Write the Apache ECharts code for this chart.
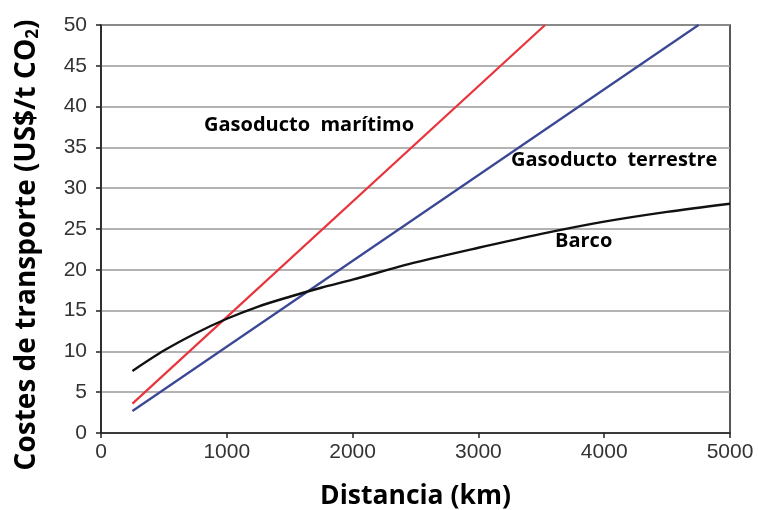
<!DOCTYPE html>
<html>
<head>
<meta charset="utf-8">
<script src="https://cdn.jsdelivr.net/npm/echarts@6/dist/echarts.min.js"></script>
<style>html,body{margin:0;padding:0;background:#fff}#c{width:758px;height:510px}</style>
</head>
<body>
<div id="c"></div>
<script>
// Distance (km) and cost (US$/t CO2)
const xTicks = [0, 1000, 2000, 3000, 4000, 5000];
const yTicks = [0, 5, 10, 15, 20, 25, 30, 35, 40, 45, 50];

const maritimoX = [250, 3530];
const maritimoY = [3.6, 50];

const terrestreX = [250, 4750];
const terrestreY = [2.7, 50];

const barcoX = [250, 500, 750, 1000, 1250, 1500, 1750, 2000, 2500, 3000, 3500, 4000, 4500, 5000];
const barcoY = [7.6, 10.1, 12.2, 14.0, 15.5, 16.7, 17.8, 18.8, 20.9, 22.7, 24.4, 25.9, 27.1, 28.1];

const seriesNames = ['Gasoducto  marítimo', 'Gasoducto  terrestre', 'Barco'];
const xTitle = 'Distancia (km)';

const zip = (xs, ys) => xs.map((x, i) => [x, ys[i]]);

const chart = echarts.init(document.getElementById('c'), null, {renderer: 'canvas'});
const tickFont = {fontFamily: 'Liberation Sans', fontSize: 21, color: '#333'};
chart.setOption({
  animation: false,
  backgroundColor: '#fff',
  grid: {left: 101, right: 28, top: 25, bottom: 77, show: true, borderColor: '#222', borderWidth: 1.5,
         containLabel: false, outerBoundsMode: 'none'},
  xAxis: {
    type: 'value', min: 0, max: 5000, interval: 1000,
    name: xTitle, nameLocation: 'middle', nameGap: 50,
    nameTextStyle: {fontFamily: 'Open Sans', fontWeight: 'bold', fontSize: 26.5, color: '#000'},
    axisLine: {show: true, lineStyle: {color: '#222', width: 1.5}},
    axisTick: {show: true, length: 5, lineStyle: {color: '#222', width: 1.5}},
    axisLabel: Object.assign({margin: 9, formatter: v => String(v)}, tickFont),
    splitLine: {show: false}
  },
  yAxis: {
    type: 'value', min: 0, max: 50, interval: 5,
    axisLine: {show: true, lineStyle: {color: '#222', width: 1.5}},
    axisTick: {show: true, length: 5, lineStyle: {color: '#222', width: 1.5}},
    axisLabel: Object.assign({margin: 14}, tickFont),
    splitLine: {show: true, lineStyle: {color: '#9a9a9a', width: 1.5}}
  },
  series: [
    {name: seriesNames[0], type: 'line', data: zip(maritimoX, maritimoY), showSymbol: false,
     lineStyle: {color: '#e8343c', width: 2.2}},
    {name: seriesNames[1], type: 'line', data: zip(terrestreX, terrestreY), showSymbol: false,
     lineStyle: {color: '#3a4795', width: 2.2}},
    {name: seriesNames[2], type: 'line', data: zip(barcoX, barcoY), showSymbol: false, smooth: 0.3,
     lineStyle: {color: '#111', width: 2.4}}
  ],
  graphic: [
    {type: 'text', left: 204, top: 115, style: {text: seriesNames[0], font: 'bold 20px "Open Sans"', fill: '#000'}},
    {type: 'text', left: 511, top: 150, style: {text: seriesNames[1], font: 'bold 20px "Open Sans"', fill: '#000'}},
    {type: 'text', left: 555, top: 231, style: {text: seriesNames[2], font: 'bold 20px "Open Sans"', fill: '#000'}},
    {type: 'text', x: 27, y: 245, rotation: Math.PI / 2,
     style: {
       text: '{m|Costes de transporte (US$/t CO}{s|2}{m|)}',
       align: 'center', verticalAlign: 'middle',
       rich: {
         m: {font: 'bold 28px "Open Sans"', fill: '#000'},
         s: {font: 'bold 17px "Open Sans"', fill: '#000', padding: [12, 0, 0, 0]}
       }
     }}
  ]
});
</script>
</body>
</html>
